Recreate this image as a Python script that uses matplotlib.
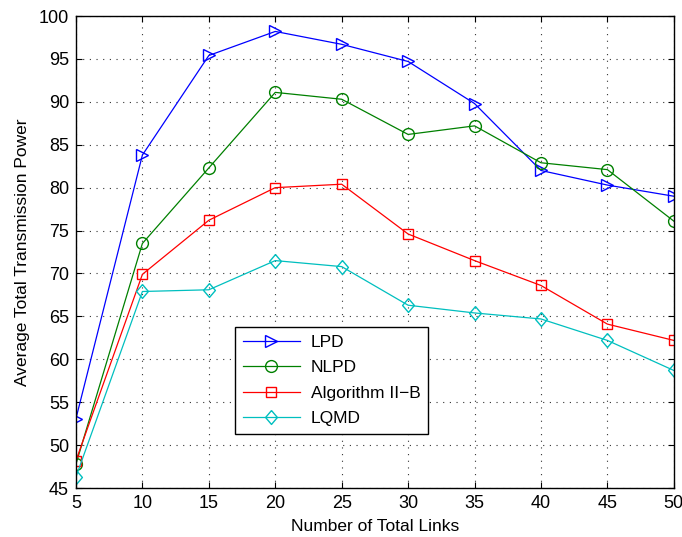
import matplotlib
matplotlib.use("Agg")
import matplotlib.pyplot as plt

links = [5, 10, 15, 20, 25, 30, 35, 40, 45, 50]
lpd = [53.1, 83.8, 95.4, 98.2, 96.7, 94.7, 89.8, 82.0, 80.3, 79.0]
nlpd = [47.8, 73.5, 82.3, 91.1, 90.3, 86.2, 87.2, 82.9, 82.1, 76.1]
alg2b = [48.2, 69.9, 76.2, 80.0, 80.4, 74.6, 71.5, 68.6, 64.1, 62.2]
lqmd = [46.3, 67.9, 68.1, 71.5, 70.8, 66.3, 65.4, 64.7, 62.2, 58.7]

plt.rcParams['font.family'] = ['Liberation Sans', 'DejaVu Sans']

# MATLAB-style diamond (wider than matplotlib's thin 'd')
diamond = [(0, 1), (0.85, 0), (0, -1), (-0.85, 0), (0, 1)]

fig = plt.figure(figsize=(6.82, 5.37), dpi=100)
ax = fig.add_axes([0.1114, 0.0912, 0.8766, 0.879])

ax.plot(links, lpd, color=(0, 0, 1), marker='>', markersize=9, mfc='none', lw=0.9, label='LPD')
ax.plot(links, nlpd, color=(0, 0.5, 0), marker='o', markersize=8.5, mfc='none', lw=0.9, label='NLPD')
ax.plot(links, alg2b, color=(1, 0, 0), marker='s', markersize=7.5, mfc='none', lw=0.9, label='Algorithm II\u2212B')
ax.plot(links, lqmd, color=(0, 0.75, 0.75), marker=diamond, markersize=10, mfc='none', lw=0.9, label='LQMD')

ax.set_xlim(5, 50)
ax.set_ylim(45, 100)
ax.set_xticks(links)
ax.set_yticks(range(45, 101, 5))
ax.grid(True, linestyle=(0, (1, 5)), color='#333333', linewidth=0.8)
ax.tick_params(direction='in', length=4, top=True, right=True, labelsize=13, pad=5)
for s in ax.spines.values():
    s.set_linewidth(1.0)

ax.set_xlabel('Number of Total Links', fontsize=12.5, labelpad=5)
ax.set_ylabel('Average Total Transmission Power', fontsize=12.5, labelpad=6)

leg = ax.legend(loc='lower left', bbox_to_anchor=(0.266, 0.114), borderaxespad=0,
                fancybox=False, edgecolor='black', framealpha=1, fontsize=12.5,
                handlelength=3.3, borderpad=0.45, labelspacing=0.6, handletextpad=0.6)
leg.get_frame().set_linewidth(1.0)

fig.savefig('out.png', dpi=100)
